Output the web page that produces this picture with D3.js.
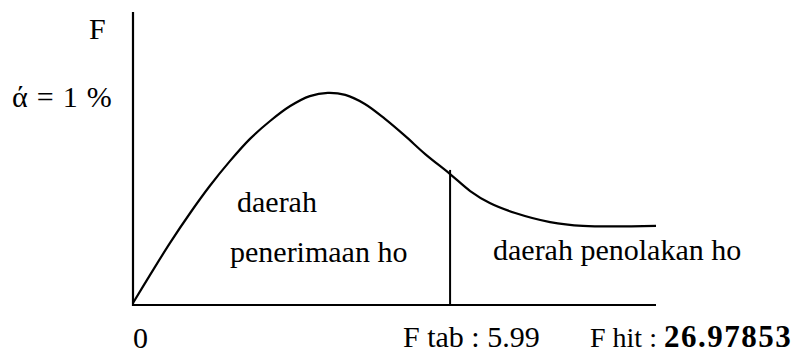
<!DOCTYPE html>
<html>
<head>
<meta charset="utf-8">
<script src="https://cdn.jsdelivr.net/npm/d3@7"></script>
<style>
  html, body { margin: 0; padding: 0; background: #fff; }
</style>
</head>
<body>
<svg id="chart" width="797" height="354"></svg>
<script>
// ---- data ----
const curveX = [0, 0.32, 0.70, 1.08, 1.45, 1.83, 2.21, 2.59, 2.97, 3.34, 3.68, 4.01, 4.38, 4.76, 5.14, 5.52, 5.99, 6.37, 6.74, 7.22, 7.88, 8.50, 9.88];
const curveY = [0.007, 0.102, 0.212, 0.314, 0.406, 0.491, 0.567, 0.628, 0.679, 0.713, 0.724, 0.717, 0.686, 0.635, 0.577, 0.515, 0.447, 0.389, 0.348, 0.314, 0.283, 0.270, 0.270];
const fTab = 5.99;
const fTabLineTop = 0.461;
const xDomain = [0, 9.88];
const yDomain = [0, 1];
const yAxisLabel = "F";
const alphaLabel = "ά = 1 %";
const regionLabels = ["daerah", "penerimaan ho", "daerah penolakan ho"];
const originLabel = "0";
const fTabLabel = "F tab : 5.99";
const fHitPrefix = "F hit : ";
const fHitValue = "26.97853";

// ---- layout ----
const svg = d3.select("#chart");
const x0 = 133, x1 = 656, yBase = 305, yTop = 12;
const x = d3.scaleLinear().domain(xDomain).range([x0, x1]);
const y = d3.scaleLinear().domain(yDomain).range([yBase, yTop]);
const fs = 30;
const fontFam = "'Liberation Serif', 'Times New Roman', 'DejaVu Serif', serif";

// axes (plain lines, no ticks)
svg.append("line").attr("x1", x(0)).attr("x2", x(0)).attr("y1", y(1)).attr("y2", y(0) + 1)
  .attr("stroke", "#000").attr("stroke-width", 2.2);
svg.append("line").attr("x1", x(0)).attr("x2", x(xDomain[1])).attr("y1", y(0)).attr("y2", y(0))
  .attr("stroke", "#000").attr("stroke-width", 2.2);

// curve
const pts = curveX.map((v, i) => [v, curveY[i]]);
const line = d3.line().x(d => x(d[0])).y(d => y(d[1])).curve(d3.curveCatmullRom.alpha(0.5));
svg.append("path").datum(pts).attr("d", line)
  .attr("fill", "none").attr("stroke", "#000").attr("stroke-width", 2.2);

// critical value line
svg.append("line").attr("x1", x(fTab)).attr("x2", x(fTab)).attr("y1", y(fTabLineTop)).attr("y2", y(0))
  .attr("stroke", "#000").attr("stroke-width", 2);

// labels
function txt(t, px, py, opts = {}) {
  return svg.append("text").attr("x", px).attr("y", py)
    .attr("font-family", fontFam)
    .attr("font-size", opts.size || fs)
    .attr("fill", "#000")
    .attr("text-anchor", opts.anchor || "start")
    .text(t);
}
txt(yAxisLabel, 89, 39);
txt(alphaLabel, 12, 107).attr("word-spacing", 1.5);
txt(regionLabels[0], 237, 212);
txt(regionLabels[1], 230, 262);
txt(regionLabels[2], 493, 260);
txt(originLabel, x(0), 348);
txt(fTabLabel, 403, 347);
const fh = svg.append("text").attr("x", 590).attr("y", 347)
  .attr("font-family", fontFam).attr("font-size", fs).attr("fill", "#000");
fh.append("tspan").attr("font-size", 28).text(fHitPrefix);
fh.append("tspan").attr("font-weight", "bold").attr("font-size", 31)
  .attr("letter-spacing", 1.5).text(fHitValue);
</script>
</body>
</html>
